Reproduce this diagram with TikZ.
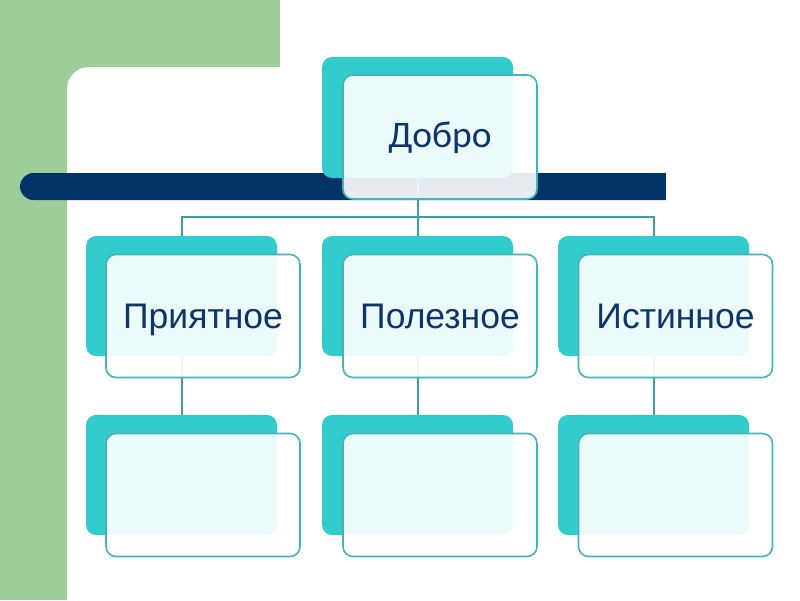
\documentclass[tikz,border=0pt]{standalone}
\usepackage{fontspec}
\setmainfont{Liberation Sans}
\newfontfamily\calfont{Carlito}
\definecolor{bggreen}{HTML}{9DCD99}
\definecolor{navy}{HTML}{003366}
\definecolor{tealback}{HTML}{33CCCC}
\definecolor{tealline}{HTML}{45B3BA}
\definecolor{connline}{HTML}{3E9CA3}
\definecolor{txtblue}{HTML}{0F3469}
\begin{document}
\begin{tikzpicture}[x=1pt,y=-1pt,
  backbox/.style={draw=none, fill=tealback, rounded corners=10pt, minimum width=191pt, minimum height=120pt, inner sep=0pt},
  frontbox/.style={draw=tealline, line width=1.6pt, fill=white, fill opacity=0.9, text opacity=1, rounded corners=10pt, minimum width=194pt, minimum height=123pt, inner sep=0pt, text=txtblue, text height=25pt, text depth=0pt, font=\fontsize{35.5}{40}\selectfont},
  conn/.style={draw=connline, line width=2pt}]
\useasboundingbox (0,0) rectangle (800,600);
% background
\fill[white] (0,0) rectangle (800,600);
\fill[bggreen] (0,0) rectangle (280,67);
\fill[bggreen] (0,0) rectangle (67,600);
\fill[bggreen] (67,67) rectangle (89,89);
\fill[white] (89,89) circle[radius=22];
\fill[white] (89,67) rectangle (800,600);
\fill[white] (67,89) rectangle (800,600);
% navy bar
\fill[navy, rounded corners=13.5pt] (700,173) -- (20,173) -- (20,200) -- (700,200) -- cycle;
\fill[white] (666,170) rectangle (710,203);
% back boxes
\node[backbox, minimum height=121pt] (top) at (417.5,117.5) {};
\node[backbox] (b21) at (181.5,296) {};
\node[backbox] (b22) at (417.5,296) {};
\node[backbox] (b23) at (653.5,296) {};
\node[backbox] (b31) at (181.5,475) {};
\node[backbox] (b32) at (417.5,475) {};
\node[backbox] (b33) at (653.5,475) {};
% connectors
\coordinate (hub) at (417.5,217);
\draw[conn] (top.south) -- (hub);
\draw[conn] (hub) -| (b21.north);
\draw[conn] (hub) -- (b22.north);
\draw[conn] (hub) -| (b23.north);
\draw[conn] (b21.south) -- (b31.north);
\draw[conn] (b22.south) -- (b32.north);
\draw[conn] (b23.south) -- (b33.north);
% front boxes
\node[frontbox, minimum height=124pt, text height=24pt, text depth=4pt, font=\calfont\fontsize{37.5}{42}\selectfont] (ftop) at (440,137) {Добро};
\node[frontbox] (f21) at (203,316) {Приятное};
\node[frontbox] (f22) at (440,316) {Полезное};
\node[frontbox] (f23) at (675.5,316) {Истинное};
\node[frontbox] (f31) at (203,495) {};
\node[frontbox] (f32) at (440,495) {};
\node[frontbox] (f33) at (675.5,495) {};
\end{tikzpicture}
\end{document}
